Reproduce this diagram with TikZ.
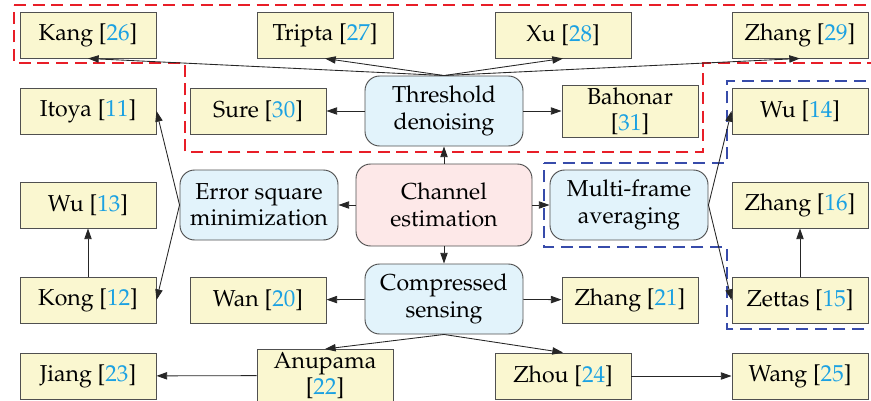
\documentclass[tikz,border=0pt]{standalone}
\usepackage[T1]{fontenc}
\usepackage{mathpazo}
\usepackage{tikz}
\usetikzlibrary{arrows.meta}

\definecolor{boxfill}{RGB}{250,247,208}
\definecolor{boxline}{RGB}{80,80,80}
\definecolor{methfill}{RGB}{226,243,251}
\definecolor{rootfill}{RGB}{253,232,232}
\definecolor{citeblue}{RGB}{27,161,226}
\definecolor{dashred}{RGB}{232,30,40}
\definecolor{dashblue}{RGB}{55,75,170}
\newcommand{\refnum}[1]{[\textcolor{citeblue}{#1}]}

\tikzset{
  paper/.style={draw=boxline, fill=boxfill, line width=0.7pt, minimum width=102pt, minimum height=34.5pt, inner sep=1pt, align=center},
  paperhigh/.style={paper, minimum height=39pt},
  method/.style={draw=boxline, fill=methfill, line width=0.7pt, rounded corners=11pt, minimum width=118.5pt, minimum height=52.5pt, inner sep=1pt, align=center},
  root/.style={method, fill=rootfill, minimum width=132pt, minimum height=61.5pt},
  link/.style={-{Triangle[length=8pt,width=5.5pt]}, line width=0.65pt, black!85},
  group/.style={dash pattern=on 9pt off 5pt, line width=1.2pt}
}

\begin{document}
\begin{tikzpicture}[x=0.75pt,y=0.75pt,yscale=-1,xscale=1,font=\fontsize{17.3}{19.8}\selectfont]
\useasboundingbox (0,0) rectangle (871,400);

%Dashed groups
\draw [group, color=dashred] (14,5) -- (875,5) -- (875,63) -- (703,63) -- (703,152) -- (185,152) -- (185,63) -- (14,63) -- cycle ;
\draw [group, color=dashblue] (544,163) -- (727,163) -- (727,81) -- (875,81) -- (875,329) -- (727,329) -- (727,247) -- (544,247) -- cycle ;

% Method nodes
\node [root] (chan) at (444,205) {Channel\\estimation};
\node [method] (thres) at (444,111) {Threshold\\denoising};
\node [method] (errsq) at (259,205) {Error square\\minimization};
\node [method] (multi) at (629,205) {Multi-frame\\averaging};
\node [method] (comp) at (444,299) {Compressed\\sensing};

% Paper nodes, top rows
\node [paper] (kang) at (88,35) {Kang \refnum{26}};
\node [paper] (tripta) at (325,35) {Tripta \refnum{27}};
\node [paper] (xu) at (563,35) {Xu \refnum{28}};
\node [paper] (zhangB) at (800,35) {Zhang \refnum{29}};
\node [paper] (itoya) at (88,111) {Itoya \refnum{11}};
\node [paper] (sure) at (258,111) {Sure \refnum{30}};
\node [paperhigh] (bahonar) at (630,111) {Bahonar\\\refnum{31}};
\node [paper] (wuA) at (800,111) {Wu \refnum{14}};

% Paper nodes, middle rows
\node [paper] (wuB) at (88,205) {Wu \refnum{13}};
\node [paper] (zhangC) at (800,205) {Zhang \refnum{16}};
\node [paper] (kong) at (88,300) {Kong \refnum{12}};
\node [paper] (wan) at (258,300) {Wan \refnum{20}};
\node [paper] (zhangD) at (630,300) {Zhang \refnum{21}};
\node [paper] (zettas) at (800,300) {Zettas \refnum{15}};

% Paper nodes, bottom row
\node [paper] (jiang) at (88,376) {Jiang \refnum{23}};
\node [paperhigh] (anupama) at (325,375.5) {Anupama\\\refnum{22}};
\node [paper] (zhou) at (563,376) {Zhou \refnum{24}};
\node [paper] (wang) at (800,376) {Wang \refnum{25}};

% Links
\draw [link] (chan) -- (thres);
\draw [link] (chan) -- (errsq);
\draw [link] (chan) -- (multi);
\draw [link] (chan) -- (comp);

\draw [link] (thres.north) -- (kang.south);
\draw [link] (thres.north) -- (tripta.south);
\draw [link] (thres.north) -- (xu.south);
\draw [link] (thres.north) -- (zhangB.south);
\draw [link] (thres) -- (sure);
\draw [link] (thres) -- (bahonar);

\draw [link] (errsq.west) -- (itoya.east);
\draw [link] (errsq.west) -- (kong.east);
\draw [link] (kong) -- (wuB);

\draw [link] (multi.east) -- (wuA.west);
\draw [link] (multi.east) -- (zettas.west);
\draw [link] (zettas) -- (zhangC);

\draw [link] (comp) -- (wan);
\draw [link] (comp) -- (zhangD);
\draw [link] (comp.south) -- (anupama.north);
\draw [link] (comp.south) -- (zhou.north);
\draw [link] (anupama) -- (jiang);
\draw [link] (zhou) -- (wang);

\end{tikzpicture}
\end{document}
